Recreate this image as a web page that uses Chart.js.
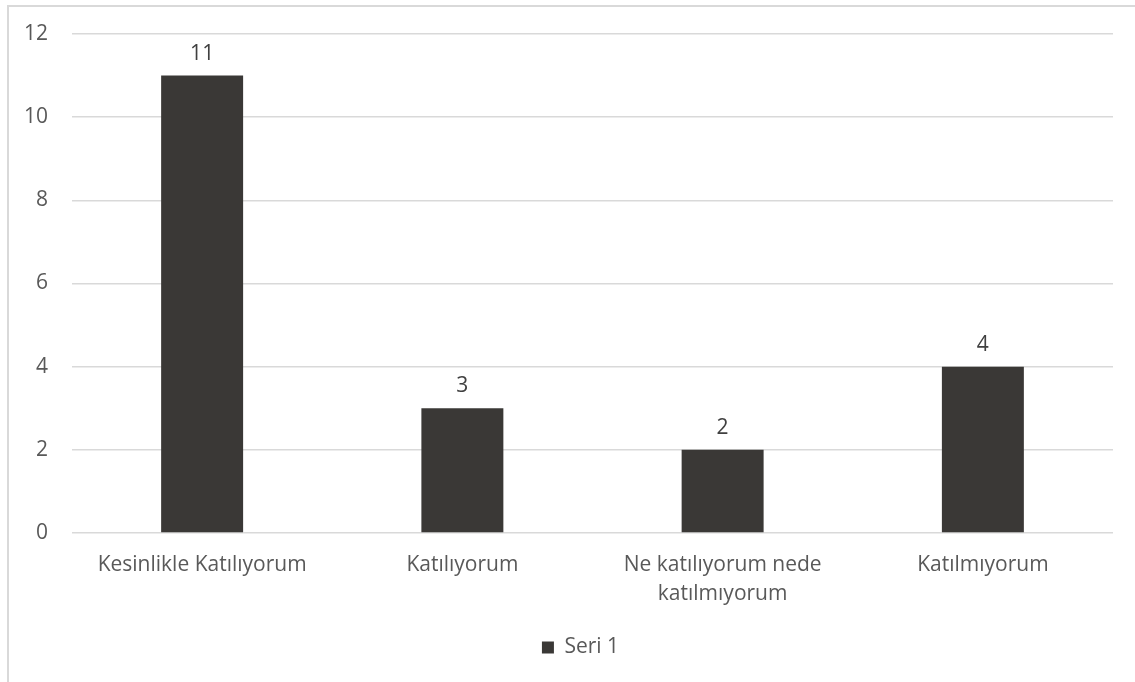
<!DOCTYPE html>
<html>
<head>
<meta charset="utf-8">
<script src="https://cdn.jsdelivr.net/npm/chart.js@4"></script>
<style>
  html, body { margin: 0; padding: 0; background: #fff; overflow: hidden; }
  #frame { position: absolute; left: 7px; top: 5px; width: 1200px; height: 800px; border: 2px solid #d9d9d9; box-sizing: border-box; }
  #wrap { position: absolute; left: 0; top: 0; width: 1135px; height: 682px; }
</style>
</head>
<body>
<div id="frame"></div>
<div id="wrap"><canvas id="chart"></canvas></div>
<script>
const categories = ['Kesinlikle Katılıyorum', 'Katılıyorum', ['Ne katılıyorum nede', 'katılmıyorum'], 'Katılmıyorum'];
const seri1 = [11, 3, 2, 4];
const yTicks = [0, 2, 4, 6, 8, 10, 12];

const fontFamily = '"Open Sans", sans-serif';
const textColor = '#595959';

// draws the value above each bar
const barLabels = {
    id: 'barLabels',
    afterDatasetsDraw(chart) {
        const ctx = chart.ctx;
        const meta = chart.getDatasetMeta(0);
        ctx.save();
        ctx.font = '21px ' + fontFamily;
        ctx.fillStyle = '#404040';
        ctx.textAlign = 'center';
        ctx.textBaseline = 'middle';
        meta.data.forEach((bar, i) => {
            ctx.fillText(seri1[i], bar.x, bar.y - 22);
        });
        ctx.restore();
    }
};

// nudge legend so it sits under the plot centre
const legendShift = {
    id: 'legendShift',
    afterLayout(chart) {
        chart.legend.left += 24;
        chart.legend.right += 24;
    }
};

const ctx = document.getElementById('chart').getContext('2d');
new Chart(ctx, {
    type: 'bar',
    data: {
        labels: categories,
        datasets: [{
            label: 'Seri 1',
            data: seri1,
            backgroundColor: '#3a3836',
            borderWidth: 0,
            categoryPercentage: 1,
            barPercentage: 0.315
        }]
    },
    options: {
        responsive: true,
        maintainAspectRatio: false,
        animation: false,
        layout: { padding: { top: 34, right: 22, bottom: 14, left: 0 } },
        scales: {
            y: {
                min: 0,
                max: 12,
                afterBuildTicks: s => { s.ticks = yTicks.map(v => ({ value: v })); },
                afterFit: s => { s.width = 72; s.paddingTop = 0; s.paddingBottom = 0; },
                border: { display: false },
                grid: { color: '#d9d9d9', lineWidth: 1.5, drawTicks: false },
                ticks: { color: textColor, padding: 24, font: { size: 21, family: fontFamily } }
            },
            x: {
                afterFit: s => { s.height = 94; },
                border: { display: false },
                grid: { display: false, drawTicks: false },
                ticks: { color: textColor, padding: 18, maxRotation: 0, font: { size: 21, family: fontFamily, lineHeight: 1.35 } }
            }
        },
        plugins: {
            legend: {
                position: 'bottom',
                labels: {
                    color: textColor,
                    boxWidth: 12,
                    boxHeight: 12,
                    padding: 10,
                    font: { size: 21, family: fontFamily }
                }
            },
            tooltip: { enabled: false }
        }
    },
    plugins: [barLabels, legendShift]
});
</script>
</body>
</html>
